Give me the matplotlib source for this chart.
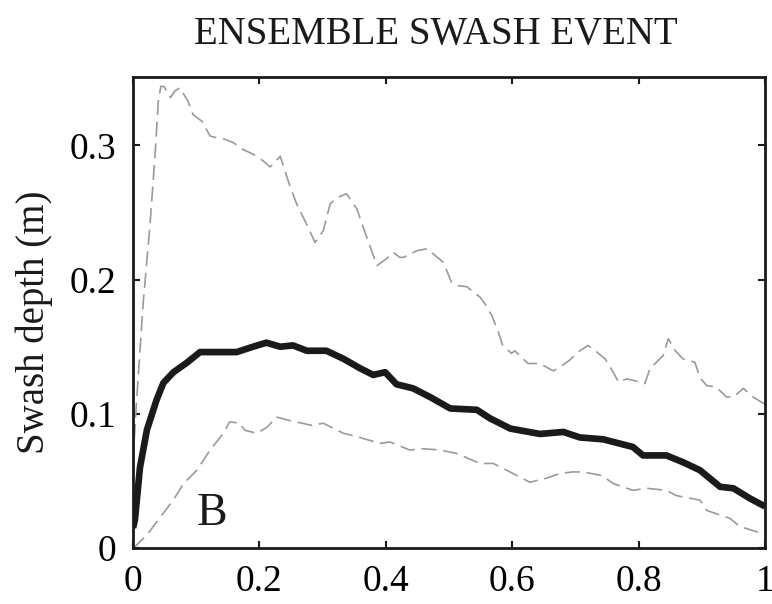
import matplotlib
matplotlib.use("Agg")
import matplotlib.pyplot as plt

plt.rcParams['font.family'] = ['Liberation Serif', 'DejaVu Serif']

# mean swash depth (thick black)
x_mean = [0, 0.003, 0.011, 0.022, 0.037, 0.048, 0.064, 0.085, 0.106, 0.132, 0.164,
          0.190, 0.211, 0.233, 0.253, 0.275, 0.306, 0.333, 0.359, 0.380, 0.399,
          0.417, 0.443, 0.470, 0.502, 0.544, 0.565, 0.597, 0.644, 0.681, 0.707,
          0.744, 0.791, 0.807, 0.844, 0.870, 0.897, 0.929, 0.950, 0.976, 1.0]
y_mean = [0.015, 0.021, 0.060, 0.088, 0.110, 0.123, 0.131, 0.138, 0.146, 0.146, 0.146,
          0.150, 0.153, 0.150, 0.151, 0.147, 0.147, 0.141, 0.134, 0.129, 0.131,
          0.122, 0.119, 0.1125, 0.104, 0.103, 0.0966, 0.089, 0.085, 0.0865, 0.0824,
          0.081, 0.0753, 0.069, 0.069, 0.064, 0.058, 0.0456, 0.0445, 0.037, 0.031]

# lower bound (gray dashed)
x_low = [0, 0.003, 0.022, 0.032, 0.048, 0.064, 0.080, 0.101, 0.122, 0.143, 0.153,
         0.169, 0.177, 0.196, 0.212, 0.227, 0.248, 0.283, 0.301, 0.333, 0.354,
         0.391, 0.407, 0.438, 0.459, 0.486, 0.512, 0.549, 0.570, 0.601, 0.628,
         0.654, 0.676, 0.696, 0.712, 0.742, 0.760, 0.791, 0.813, 0.844, 0.860,
         0.897, 0.908, 0.945, 0.960, 0.992, 1.0]
y_low = [0.0, 0.001, 0.0097, 0.016, 0.026, 0.036, 0.048, 0.058, 0.073, 0.0855, 0.094,
         0.093, 0.0877, 0.0855, 0.090, 0.0976, 0.095, 0.0914, 0.093, 0.0855, 0.083,
         0.078, 0.079, 0.073, 0.074, 0.073, 0.0705, 0.063, 0.063, 0.0556, 0.049,
         0.052, 0.0556, 0.0567, 0.0567, 0.054, 0.048, 0.043, 0.0445, 0.043, 0.039,
         0.0357, 0.028, 0.022, 0.016, 0.0114, 0.010]

# upper bound (gray dashed)
x_up = [0, 0.005, 0.016, 0.027, 0.035, 0.040, 0.044, 0.049, 0.059, 0.066, 0.074,
        0.087, 0.095, 0.109, 0.122, 0.130, 0.143, 0.159, 0.174, 0.190, 0.206,
        0.217, 0.233, 0.248, 0.259, 0.277, 0.288, 0.301, 0.312, 0.322, 0.338,
        0.354, 0.370, 0.386, 0.401, 0.412, 0.422, 0.428, 0.449, 0.465, 0.478,
        0.491, 0.504, 0.514, 0.528, 0.549, 0.557, 0.568, 0.578, 0.585, 0.599,
        0.604, 0.625, 0.644, 0.665, 0.676, 0.691, 0.707, 0.720, 0.734, 0.747,
        0.760, 0.768, 0.781, 0.791, 0.810, 0.818, 0.839, 0.847, 0.858, 0.870,
        0.889, 0.897, 0.908, 0.923, 0.939, 0.950, 0.966, 0.981, 0.997, 1.0]
y_up = [0.065, 0.105, 0.182, 0.2416, 0.2935, 0.333, 0.344, 0.344, 0.3356, 0.3405, 0.343,
        0.333, 0.323, 0.318, 0.307, 0.306, 0.305, 0.302, 0.297, 0.2935, 0.2885,
        0.284, 0.292, 0.270, 0.2564, 0.239, 0.2277, 0.2364, 0.2564, 0.261, 0.264,
        0.2528, 0.2315, 0.2104, 0.2156, 0.2203, 0.2166, 0.2166, 0.2215, 0.223, 0.218,
        0.213, 0.198, 0.1955, 0.1948, 0.187, 0.182, 0.173, 0.161, 0.151, 0.145,
        0.147, 0.1375, 0.1375, 0.132, 0.135, 0.140, 0.147, 0.151, 0.146, 0.141,
        0.131, 0.1237, 0.126, 0.125, 0.1226, 0.1337, 0.1435, 0.156, 0.147, 0.141,
        0.1385, 0.127, 0.121, 0.120, 0.1125, 0.1125, 0.119, 0.1125, 0.108, 0.107]

x_ticks = [0, 0.2, 0.4, 0.6, 0.8, 1]
x_labels = ['0', '0.2', '0.4', '0.6', '0.8', '1']
y_ticks = [0, 0.1, 0.2, 0.3]
y_labels = ['0', '0.1', '0.2', '0.3']

fig = plt.figure(figsize=(7.72, 6.04), dpi=100)
ax = fig.add_axes([0.1723, 0.0927, 0.8186, 0.7798])

gray = '#9a9a9a'
ax.plot(x_up, y_up, color=gray, lw=1.2, linestyle=(0, (9, 4)))
ax.plot(x_low, y_low, color=gray, lw=1.2, linestyle=(0, (9, 4)))
ax.plot(x_mean, y_mean, color='#1a1a1a', lw=4.8, solid_capstyle='butt')

ax.set_xlim(0, 1)
ax.set_ylim(0, 0.351)
ax.set_xticks(x_ticks)
ax.set_xticklabels(x_labels)
ax.set_yticks(y_ticks)
ax.set_yticklabels(y_labels)
ax.tick_params(direction='in', length=5, width=1.5, labelsize=27, top=True, right=True,
               pad=12, color='#1a1a1a')
for s in ax.spines.values():
    s.set_linewidth(2.0)
    s.set_color('#1a1a1a')

ax.set_ylabel('Swash depth (m)', fontsize=28, labelpad=12, color='#1a1a1a')
ax.yaxis.label.set_y(0.479)
ax.set_title('ENSEMBLE SWASH EVENT', fontsize=28, x=0.479, pad=24, color='#1a1a1a')
ax.text(0.101, 0.017, 'B', fontsize=33, color='#1a1a1a')

fig.savefig('out.png', dpi=100)
